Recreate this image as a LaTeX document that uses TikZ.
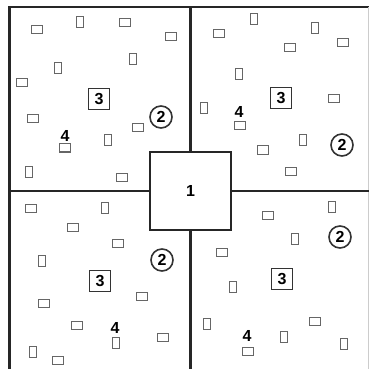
\documentclass[tikz,border=0pt]{standalone}
\usepackage{fontspec}
\setmainfont{Liberation Sans}
\usetikzlibrary{positioning}

\begin{document}
\begin{tikzpicture}[
    x=1pt, y=-1pt,
    font=\fontsize{16}{17}\selectfont\bfseries,
    wall/.style={line width=2.4pt, black!85},
    hub/.style={rectangle, draw=black!85, line width=2.4pt, minimum width=81pt, minimum height=78pt, inner sep=0pt},
    lot/.style={rectangle, draw=black!80, line width=1.6pt, minimum size=21pt, inner sep=0pt},
    ring/.style={circle, draw=black!80, line width=1.6pt, minimum size=22pt, inner sep=0pt},
    tag/.style={inner sep=0pt},
    hut/.style={rectangle, draw=black!60, line width=1pt, minimum width=11pt, minimum height=8pt, inner sep=0pt},
    huttall/.style={hut, minimum width=7.5pt, minimum height=11pt}
]
\useasboundingbox (0,0) rectangle (370,369);
\coordinate (tl) at (9.5,7);
\coordinate (tr) at (368.5,7);
\coordinate (bl) at (9.5,369);
\coordinate (br) at (368.5,369);
\node[hub] (hub) at (190.5,191.2) {1};
\draw[wall] (bl) -- (tl) -- (tr);
\draw[black!20, line width=0.8pt] (tr) -- (br);
\draw[wall] (hub.north) -- (hub.north |- tl);
\draw[wall] (hub.south) -- (hub.south |- bl);
\draw[wall] (hub.west) -- (hub.west -| tl);
\draw[wall] (hub.east) -- (hub.east -| tr);

\node[lot] (lotnw) at (99,99) {3};
\node[lot] (lotne) at (281,98) {3};
\node[lot] (lotsw) at (100,281) {3};
\node[lot] (lotse) at (282,279) {3};
\node[ring] (ringnw) at (161,117) {2};
\node[ring] (ringne) at (342,145) {2};
\node[ring] (ringsw) at (162,260) {2};
\node[ring] (ringse) at (340,237) {2};
\node[tag] (tagnw) at (65,136) {4};
\node[tag] (tagne) at (239,112) {4};
\node[tag] (tagsw) at (115,328) {4};
\node[tag] (tagse) at (247,336) {4};

\foreach \x/\y [count=\i] in {37/30, 125/23, 171/37, 22/83, 33/119, 138/128, 65/148, 122/177,
    219/34, 290/48, 343/43, 334/99, 240/126, 263/150, 291/171,
    31/208, 73/227, 118/243, 44/303, 142/296, 77/325, 163/337, 58/360,
    268/215, 222/252, 315/321, 248/351}
  \node[hut] (hut\i) at (\x,\y) {};
\foreach \x/\y [count=\i] in {80/22, 133/59, 58/68, 108/140, 29/172,
    254/19, 315/28, 239/74, 204/108, 303/140,
    105/208, 42/261, 116/343, 33/352,
    332/207, 295/239, 233/287, 207/324, 284/337, 344/344}
  \node[huttall] (tall\i) at (\x,\y) {};
\end{tikzpicture}
\end{document}
